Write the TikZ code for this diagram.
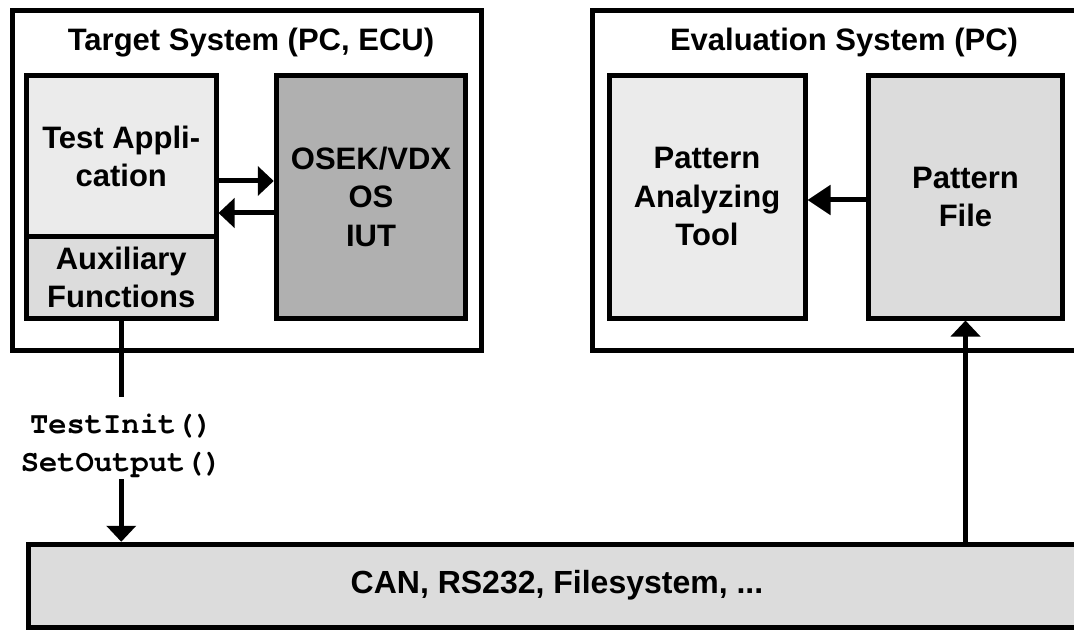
\documentclass[tikz,border=0pt]{standalone}
\usepackage{fontspec}
\setmainfont{Liberation Sans}
\newfontfamily\codefont{TeX Gyre Cursor}
\usetikzlibrary{arrows.meta}
\definecolor{lightfill}{HTML}{EBEBEB}
\definecolor{midfill}{HTML}{DCDCDC}
\definecolor{darkfill}{HTML}{B0B0B0}
\tikzset{
  box/.style={draw=black, line width=5pt, rectangle, inner sep=0pt, align=center,
    font=\bfseries\fontsize{31}{38.5}\selectfont},
  titletext/.style={inner sep=0pt, font=\bfseries\fontsize{31}{38}\selectfont},
  bustext/.style={inner sep=0pt, font=\bfseries\fontsize{32}{38}\selectfont},
  codetext/.style={inner sep=0pt, align=center, font=\codefont\bfseries\fontsize{30.5}{38}\selectfont},
  conn/.style={line width=5pt},
  arr/.style={line width=5pt, -{Triangle[length=16pt,width=29pt]}},
  arrlong/.style={line width=5pt, -{Triangle[length=23pt,width=29pt]}},
}
\begin{document}
\begin{tikzpicture}[x=1pt,y=-1pt]
\useasboundingbox (0,0) rectangle (1074,631);
\clip (0,0) rectangle (1074,631);
\fill[white] (0,0) rectangle (1074,631);
% outer system boxes
\node[box, fill=white, minimum width=469pt, minimum height=339.5pt] (tgt) at (246.5,180.75) {};
\node[box, fill=white, minimum width=520pt, minimum height=340pt] (eval) at (852.5,180.5) {};
\node[titletext] (tgtT) at (251,42.5) {Target System (PC, ECU)};
\node[titletext] (evalT) at (844,42.5) {Evaluation System (PC)};
% target inner boxes
\node[box, fill=lightfill, minimum width=189.5pt, minimum height=161.5pt] (ta) at (121.25,156.25) {Test Appli-\\cation};
\node[box, fill=midfill, minimum width=189.5pt, minimum height=81pt] (aux) at (121.25,277.5) {Auxiliary\\Functions};
\node[box, fill=darkfill, minimum width=189.5pt, minimum height=242.5pt] (osek) at (371,196.75) {OSEK/VDX\\OS\\IUT};
% evaluation inner boxes
\node[box, fill=lightfill, minimum width=196pt, minimum height=242.5pt] (pat) at (707,196.75) {Pattern\\Analyzing\\Tool};
\node[box, fill=midfill, minimum width=194pt, minimum height=242.5pt] (pf) at (965.5,196.75) {Pattern\\File};
% bus
\node[box, fill=midfill, minimum width=1100pt, minimum height=83pt, anchor=west] (bus) at (26,585.75) {};
\node[bustext] (busT) at (557,585) {CAN, RS232, Filesystem, ...};
% arrows between target boxes
\draw[arr] (ta.east |- 0,181) -- (osek.west |- 0,181);
\draw[arr] (osek.west |- 0,213) -- (ta.east |- 0,213);
% arrow in evaluation system
\draw[arrlong] (pf.west |- 0,200) -- (pat.east |- 0,200);
% aux to bus
\coordinate (c1) at (121.25,397);
\coordinate (c2) at (121.25,479);
\node[codetext] (calls) at (121.5,446) {TestInit()\\SetOutput()};
\draw[conn] (aux.south) -- (c1);
\draw[arr] (c2) -- (bus.north -| c2);
% bus to pattern file
\draw[arr] (bus.north -| pf.south) -- (pf.south);
\end{tikzpicture}
\end{document}
